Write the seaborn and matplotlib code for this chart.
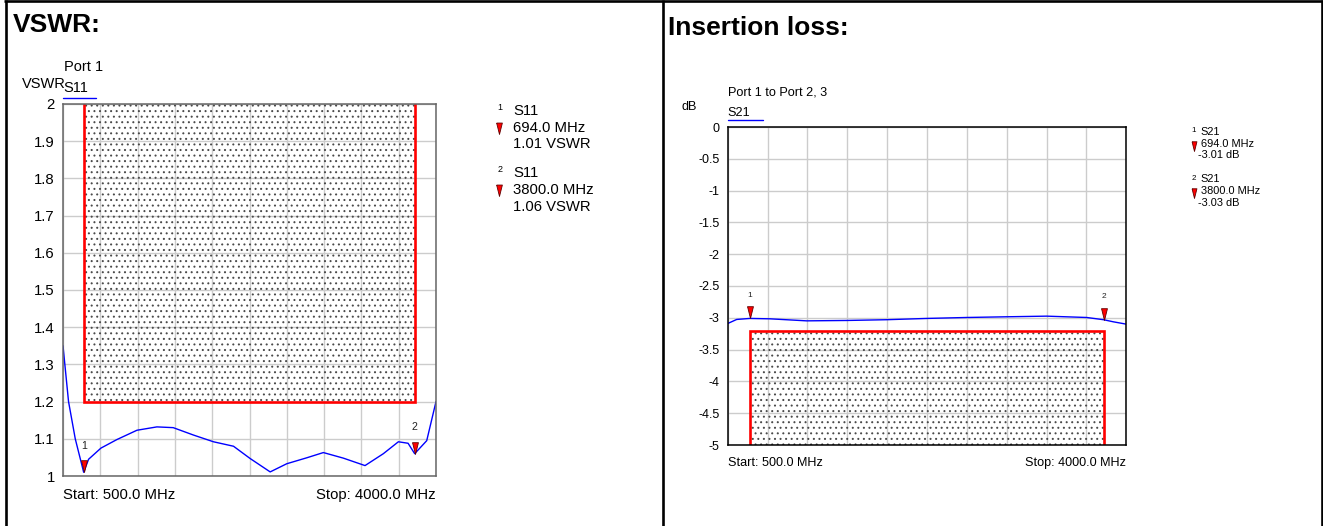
import matplotlib
matplotlib.use('Agg')
import matplotlib.pyplot as plt
import seaborn as sns

## S11 trace (VSWR)
VSWR_FREQ = [500, 552, 615, 694, 740, 856, 1006, 1194, 1381, 1534, 1725, 1912, 2100,
             2256, 2444, 2600, 2788, 2943, 3131, 3334, 3506, 3647, 3738, 3800, 3913, 4000]
VSWR_VALUE = [1.35, 1.20, 1.10, 1.01, 1.045, 1.075, 1.098, 1.123, 1.132, 1.13, 1.11, 1.092, 1.08,
              1.047, 1.011, 1.033, 1.049, 1.063, 1.048, 1.028, 1.060, 1.092, 1.088, 1.06, 1.095, 1.2]

## S21 trace (insertion loss)
IL_FREQ = [500, 579, 694, 871, 1193, 1545, 1896, 2247, 2598, 2950, 3301, 3652, 3800, 3886, 4000]
IL_VALUE = [-3.09, -3.026, -3.01, -3.016, -3.048, -3.042, -3.03, -3.01, -2.995, -2.984,
            -2.974, -2.995, -3.03, -3.063, -3.1]

## Markers and limit masks
MARKER_FREQ = [694.0, 3800.0]
VSWR_MARKER_VALUE = [1.01, 1.06]
IL_MARKER_VALUE = [-3.01, -3.03]
MASK_FREQ = [694, 3800]
VSWR_MASK = 1.2
IL_MASK = -3.2

## Axes
FREQ_START = 500
FREQ_STOP = 4000
FREQ_GRID = [500, 850, 1200, 1550, 1900, 2250, 2600, 2950, 3300, 3650, 4000]
VSWR_TICKS = [1, 1.1, 1.2, 1.3, 1.4, 1.5, 1.6, 1.7, 1.8, 1.9, 2]
VSWR_TICK_LABELS = ['1', '1.1', '1.2', '1.3', '1.4', '1.5', '1.6', '1.7', '1.8', '1.9', '2']
IL_TICKS = [-5, -4.5, -4, -3.5, -3, -2.5, -2, -1.5, -1, -0.5, 0]
IL_TICK_LABELS = ['-5', '-4.5', '-4', '-3.5', '-3', '-2.5', '-2', '-1.5', '-1', '-0.5', '0']

W, H = 1323, 526

sns.set_style('white')
plt.rcParams['font.family'] = ['Liberation Sans', 'DejaVu Sans']
plt.rcParams['text.color'] = 'black'
plt.rcParams['xtick.color'] = 'black'
plt.rcParams['ytick.color'] = 'black'
plt.rcParams['hatch.color'] = '#4a4a4a'
plt.rcParams['hatch.linewidth'] = 0.7

## Marker glyph with its tip at the origin
TRI = [(-0.25, 1.0), (0.25, 1.0), (0.0, 0.0), (-0.25, 1.0)]


def px_rect(x0, y0, x1, y1):
    '''Axes rectangle from pixel corners (top-left origin)'''
    return [x0 / W, 1 - y1 / H, (x1 - x0) / W, (y1 - y0) / H]


def draw_chart(ax, freq, values, ticks, tick_labels, mask_y0, mask_y1, marker_vals,
               fs, spine_color, label_offset):
    sns.lineplot(x=freq, y=values, ax=ax, color='#0000ff', lw=1.0, zorder=4)
    ## Limit mask: dotted area and red outline
    ax.fill_between(MASK_FREQ, mask_y0, mask_y1, facecolor='none', edgecolor='#4a4a4a',
                    hatch='...', linewidth=0, zorder=2)
    edge = mask_y0 if mask_y1 == ticks[-1] else mask_y1
    far = mask_y1 if mask_y1 == ticks[-1] else mask_y0
    ax.plot([MASK_FREQ[0], MASK_FREQ[0], MASK_FREQ[1], MASK_FREQ[1]], [far, edge, edge, far],
            color='#ff0000', lw=1.9, zorder=3, solid_joinstyle='miter')
    ## Markers
    for i, (f, v) in enumerate(zip(MARKER_FREQ, marker_vals)):
        ax.plot([f], [v], marker=TRI, markersize=17, color='#ff0000',
                markeredgecolor='#600000', markeredgewidth=0.6, zorder=5, clip_on=False)
        ax.annotate(str(i + 1), (f, v), xytext=(0, label_offset), textcoords='offset points',
                    ha='center', va='center', fontsize=fs - 3, color='#222222')
    ax.set_xlim(FREQ_START, FREQ_STOP)
    ax.set_ylim(ticks[0], ticks[-1])
    ax.set_xticks(FREQ_GRID)
    ax.set_xticklabels([])
    ax.set_yticks(ticks)
    ax.set_yticklabels(tick_labels, fontsize=fs)
    ax.tick_params(length=0, pad=6)
    ax.grid(True, color='#cccccc', lw=1.0)
    ax.set_axisbelow(True)
    for s in ax.spines.values():
        s.set_color(spine_color)
        s.set_linewidth(1.1)
        s.set_zorder(6)
    ax.set_xlabel('')
    ax.set_ylabel('')


fig = plt.figure(figsize=(W / 100, H / 100), dpi=100)

## Page frame and free text in pixel coordinates
canvas = fig.add_axes([0, 0, 1, 1])
canvas.set_xlim(0, W)
canvas.set_ylim(H, 0)
canvas.axis('off')
for xs, ys in [([5.5, 5.5], [0, H]), ([663, 663], [0, H]), ([1321.5, 1321.5], [0, H]),
               ([4, 1323], [1, 1])]:
    canvas.plot(xs, ys, color='black', lw=1.9, solid_capstyle='butt')

ax1 = fig.add_axes(px_rect(63, 104, 436, 476))
draw_chart(ax1, VSWR_FREQ, VSWR_VALUE, VSWR_TICKS, VSWR_TICK_LABELS, VSWR_MASK, 2,
           VSWR_MARKER_VALUE, 10.7, '#666666', 19)

ax2 = fig.add_axes(px_rect(727.7, 127, 1126.3, 445))
draw_chart(ax2, IL_FREQ, IL_VALUE, IL_TICKS, IL_TICK_LABELS, -5, IL_MASK,
           IL_MARKER_VALUE, 9.0, 'black', 16.5)

## Left panel texts
canvas.text(13, 32, 'VSWR:', fontsize=19, fontweight='bold', va='baseline')
canvas.text(64, 71, 'Port 1', fontsize=10.5, va='baseline')
canvas.text(21.5, 88, 'VSWR', fontsize=10.5, va='baseline')
canvas.text(63, 92, 'S11', fontsize=10.5, va='baseline')
canvas.plot([63, 96], [98, 98], color='#0000ff', lw=1.0)
canvas.text(63, 499, 'Start: %.1f MHz' % FREQ_START, fontsize=10.7, va='baseline')
canvas.text(436, 499, 'Stop: %.1f MHz' % FREQ_STOP, fontsize=10.7, va='baseline', ha='right')
for i, (f, v) in enumerate(zip(MARKER_FREQ, VSWR_MARKER_VALUE)):
    y0 = 115 + i * 62.3
    canvas.text(500, y0 - 5, str(i + 1), fontsize=6.5, va='baseline', ha='center')
    canvas.text(513, y0, 'S11', fontsize=10.7, va='baseline')
    canvas.plot([499], [y0 + 18.5], marker=TRI, markersize=16.5, color='#ff0000',
                markeredgecolor='#600000', markeredgewidth=0.6)
    canvas.text(513, y0 + 16.7, '%.1f MHz' % f, fontsize=10.7, va='baseline')
    canvas.text(513, y0 + 33.4, '%.2f VSWR' % v, fontsize=10.7, va='baseline')

## Right panel texts
canvas.text(668, 35, 'Insertion loss:', fontsize=19, fontweight='bold', va='baseline')
canvas.text(727.7, 95.7, 'Port 1 to Port 2, 3', fontsize=9.1, va='baseline')
canvas.text(681.7, 110, 'dB', fontsize=9.1, va='baseline')
canvas.text(727.7, 115.7, 'S21', fontsize=9.1, va='baseline')
canvas.plot([727.7, 762.7], [120, 120], color='#0000ff', lw=1.0)
canvas.text(727.7, 466, 'Start: %.1f MHz' % FREQ_START, fontsize=9.1, va='baseline')
canvas.text(1126, 466, 'Stop: %.1f MHz' % FREQ_STOP, fontsize=9.1, va='baseline', ha='right')
for i, (f, v) in enumerate(zip(MARKER_FREQ, IL_MARKER_VALUE)):
    y0 = 135 + i * 47.3
    canvas.text(1193.5, y0 - 2.5, str(i + 1), fontsize=5.8, va='baseline', ha='center')
    canvas.text(1200.7, y0, 'S21', fontsize=7.9, va='baseline')
    canvas.plot([1194], [y0 + 16], marker=TRI, markersize=14, color='#ff0000',
                markeredgecolor='#600000', markeredgewidth=0.6)
    canvas.text(1200.7, y0 + 11.7, '%.1f MHz' % f, fontsize=7.9, va='baseline')
    canvas.text(1198, y0 + 23.3, '%.2f dB' % v, fontsize=7.9, va='baseline')

fig.savefig('out.png', dpi=100)
